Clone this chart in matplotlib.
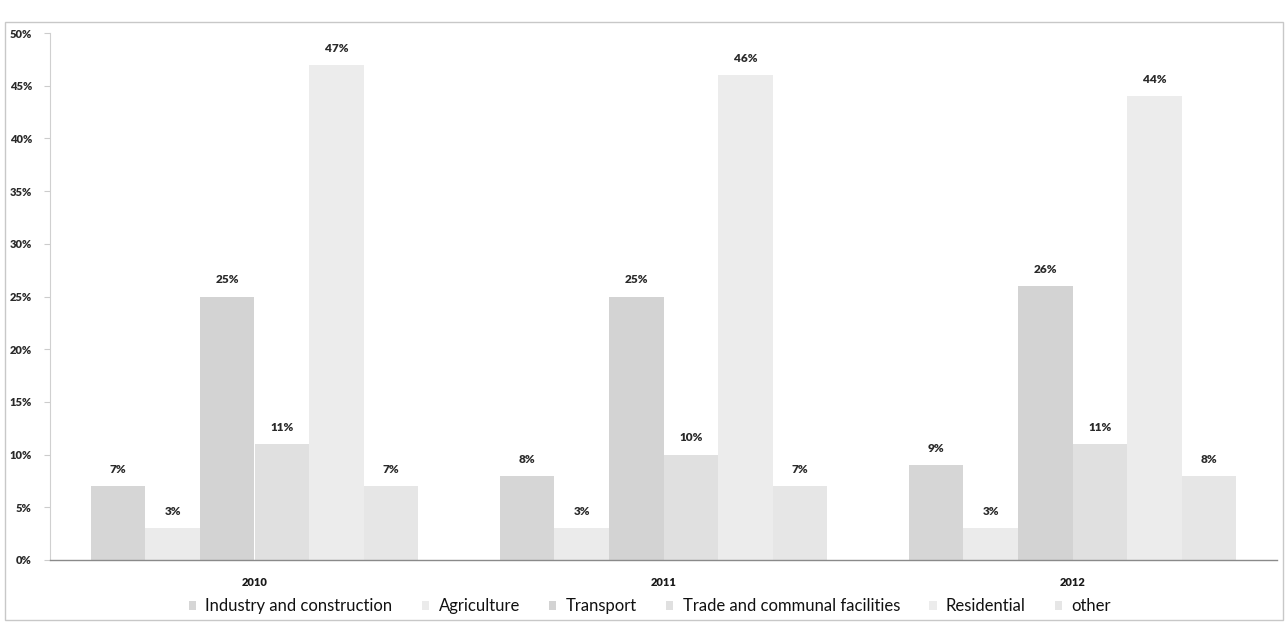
import matplotlib
matplotlib.use("Agg")
import matplotlib.pyplot as plt
import numpy as np
from matplotlib.patches import Rectangle

years = ["2010", "2011", "2012"]
sectors = ["Industry and construction", "Agriculture", "Transport",
           "Trade and communal facilities", "Residential", "other"]
industry = [7, 8, 9]
agriculture = [3, 3, 3]
transport = [25, 25, 26]
trade = [11, 10, 11]
residential = [47, 46, 44]
other = [7, 7, 8]
series = [industry, agriculture, transport, trade, residential, other]
colors = ["#d6d6d6", "#ebebeb", "#d3d3d3", "#e0e0e0", "#ececec", "#e6e6e6"]
yticks = [0, 5, 10, 15, 20, 25, 30, 35, 40, 45, 50]

plt.rcParams["font.family"] = ["Lato", "DejaVu Sans"]

fig = plt.figure(figsize=(12.87, 6.25), dpi=100)
fig.patch.set_facecolor("white")

# outer chart frame
fig.add_artist(Rectangle((5 / 1287, 5 / 625), 1278 / 1287, 598 / 625,
                         transform=fig.transFigure, fill=False,
                         edgecolor="#c8c8c8", linewidth=1.0))

ax = fig.add_axes([50 / 1287, 1 - 560 / 625, 1227 / 1287, 527 / 625])
x = np.arange(len(years))
n = len(series)
w = 0.8 / n
for i, (vals, col, name) in enumerate(zip(series, colors, sectors)):
    pos = x - 0.4 + w * (i + 0.5)
    bars = ax.bar(pos, vals, width=w, color=col, label=name, linewidth=0)
    for b, v in zip(bars, vals):
        ax.annotate(f"{v}%", (b.get_x() + b.get_width() / 2, v),
                    xytext=(0, 8), textcoords="offset points",
                    ha="center", va="bottom", fontsize=8.5,
                    fontweight="heavy", color="#2a2a2a")

ax.set_xlim(-0.5, len(years) - 0.5)
ax.set_ylim(0, 50)
ax.set_yticks(yticks)
ax.set_yticklabels([f"{t}%" for t in yticks], fontsize=8,
                   fontweight="heavy", color="#2a2a2a")
ax.set_xticks(x)
ax.set_xticklabels(years, fontsize=8, fontweight="heavy", color="#1a1a1a")
ax.tick_params(axis="x", length=0, pad=12)
ax.tick_params(axis="y", length=4, color="#cccccc", pad=9)
for s in ["top", "right"]:
    ax.spines[s].set_visible(False)
ax.spines["left"].set_color("#d0d0d0")
ax.spines["bottom"].set_color("#8a8a8a")
ax.spines["bottom"].set_linewidth(1.0)

leg = fig.legend(loc="center", bbox_to_anchor=(0.505, 1 - 606 / 625),
                 ncol=6, frameon=False, fontsize=12, handlelength=0.45,
                 handleheight=0.45, handletextpad=0.55, columnspacing=1.75)
for t in leg.get_texts():
    t.set_color("#111111")

fig.savefig("out.png", dpi=100, facecolor="white")
